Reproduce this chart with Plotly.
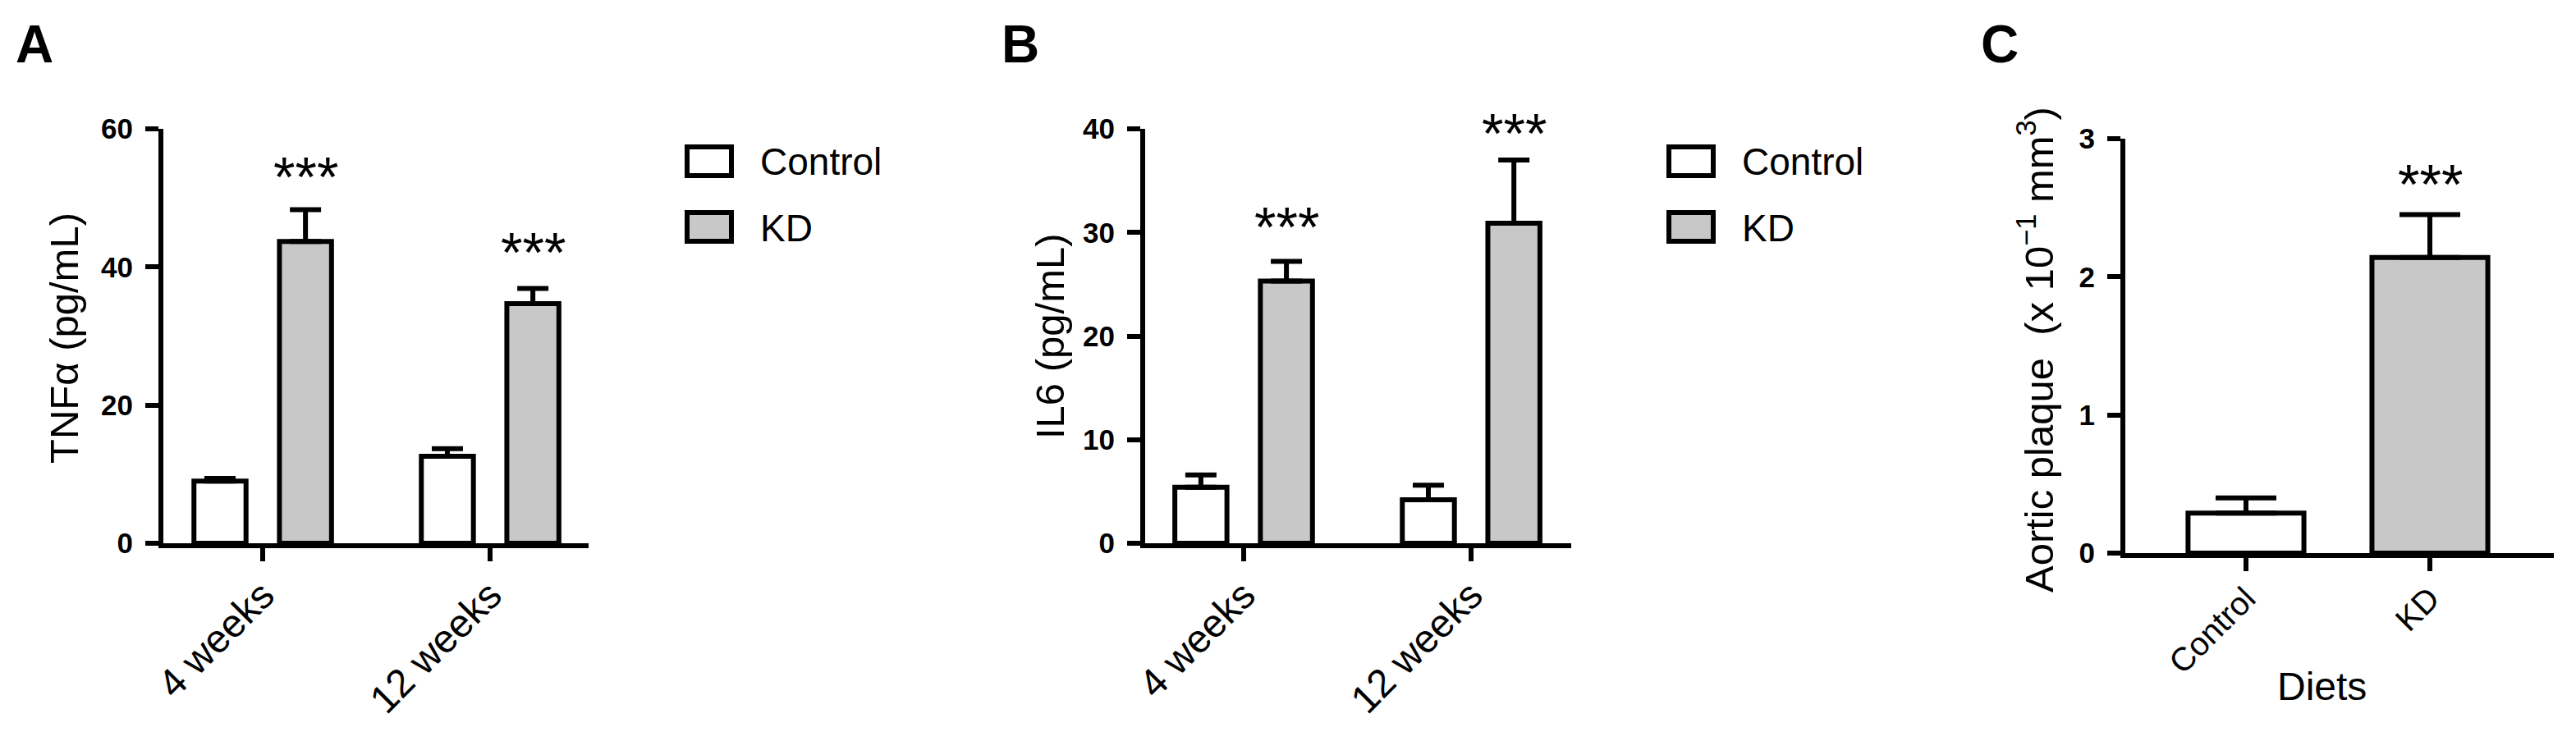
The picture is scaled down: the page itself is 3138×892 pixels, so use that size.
import plotly.graph_objects as go

# ---------------- data ----------------
time_categories = ["4 weeks", "12 weeks"]
series_names = ["Control", "KD"]

tnf_control = [9.0, 12.6]
tnf_control_sem = [0.4, 1.1]
tnf_kd = [43.7, 34.7]
tnf_kd_sem = [4.6, 2.2]
tnf_star_y = [54.7, 43.7]

il6_control = [5.4, 4.2]
il6_control_sem = [1.2, 1.4]
il6_kd = [25.3, 30.9]
il6_kd_sem = [1.9, 6.1]
il6_star_y = [31.6, 40.6]

diet_categories = ["Control", "KD"]
plaque = [0.29, 2.14]
plaque_sem = [0.11, 0.31]
plaque_star_y = [2.75]

panel_letters = ["A", "B", "C"]
y_titles = ["TNF\u03b1 (pg/mL)", "IL6 (pg/mL)",
            "Aortic plaque\u00a0\u00a0(x 10<sup>\u22121</sup> mm<sup>3</sup>)"]

# ---------------- style ----------------
W, H = 3138, 892
FONT = "Liberation Sans, Arial, sans-serif"
GRAY = "#c8c8c8"
BLACK = "#000000"
LW = 6
BARGAP = 0.248
BARGROUPGAP = 0.391


def px_x(v):
    return v / W


def px_y(v):
    return 1 - v / H


fig = go.Figure()


def add_pair(xaxis, yaxis, ctrl, ctrl_sem, kd, kd_sem, cap):
    fig.add_trace(go.Bar(
        x=time_categories, y=ctrl, name=series_names[0],
        marker=dict(color="white", line=dict(color=BLACK, width=LW)),
        error_y=dict(type="data", array=ctrl_sem, arrayminus=[0] * len(ctrl),
                     symmetric=False, color=BLACK, thickness=LW, width=cap),
        xaxis=xaxis, yaxis=yaxis, showlegend=False))
    fig.add_trace(go.Bar(
        x=time_categories, y=kd, name=series_names[1],
        marker=dict(color=GRAY, line=dict(color=BLACK, width=LW)),
        error_y=dict(type="data", array=kd_sem, arrayminus=[0] * len(kd),
                     symmetric=False, color=BLACK, thickness=LW, width=cap),
        xaxis=xaxis, yaxis=yaxis, showlegend=False))


add_pair("x", "y", tnf_control, tnf_control_sem, tnf_kd, tnf_kd_sem, 19)
add_pair("x2", "y2", il6_control, il6_control_sem, il6_kd, il6_kd_sem, 19)

fig.add_trace(go.Bar(
    x=diet_categories, y=plaque, width=0.63,
    marker=dict(color=["white", GRAY], line=dict(color=BLACK, width=LW)),
    error_y=dict(type="data", array=plaque_sem, arrayminus=[0] * len(plaque),
                 symmetric=False, color=BLACK, thickness=LW, width=37),
    xaxis="x3", yaxis="y3", showlegend=False))

# ---------------- axes ----------------
x_domains = [[px_x(199), px_x(717)], [px_x(1395), px_x(1914)], [px_x(2589), px_x(3111)]]
y_domains = [[px_y(662), px_y(157)], [px_y(662), px_y(157)], [px_y(674), px_y(169)]]
x_ranges = [[-0.437, 1.433], [-0.433, 1.440], [-0.656, 1.674]]
y_ranges = [[0, 60], [0, 40], [0, 3]]
y_dticks = [20, 10, 1]
x_tick_sizes = [48, 48, 40]

layout_axes = {}
for i in range(3):
    sx = "" if i == 0 else str(i + 1)
    layout_axes["xaxis" + sx] = dict(
        domain=x_domains[i], range=x_ranges[i], type="category", automargin=False,
        anchor="y" + sx, showline=True, linecolor=BLACK, linewidth=LW,
        ticks="outside", ticklen=16, tickwidth=LW, tickcolor=BLACK,
        tickangle=-45, showgrid=False, zeroline=False, fixedrange=True,
        tickfont=dict(family=FONT, size=x_tick_sizes[i], color=BLACK),
        ticklabelstandoff=-6)
    layout_axes["yaxis" + sx] = dict(
        domain=y_domains[i], range=y_ranges[i], dtick=y_dticks[i], automargin=False,
        anchor="x" + sx, showline=True, linecolor=BLACK, linewidth=LW,
        ticks="outside", ticklen=16, tickwidth=LW, tickcolor=BLACK,
        showgrid=False, zeroline=False, fixedrange=True,
        tickfont=dict(family=FONT, size=35, color=BLACK, weight="bold"),
        ticklabelstandoff=8)

# ---------------- annotations ----------------
annotations = []
kd_offset = (1 - BARGAP) / 4

# panel letters
letter_pos = [(42, 54), (1243, 54), (2436, 54)]
for letter, (lx, ly) in zip(panel_letters, letter_pos):
    annotations.append(dict(text=letter, x=px_x(lx), y=px_y(ly), xref="paper", yref="paper",
                            xanchor="center", yanchor="middle", showarrow=False,
                            font=dict(family=FONT, size=64, color=BLACK, weight="bold")))

# y titles
title_pos = [(78, 412), (1279, 410), (2480, 426)]
for t, (tx, ty) in zip(y_titles, title_pos):
    annotations.append(dict(text=t, x=px_x(tx), y=px_y(ty), xref="paper", yref="paper",
                            xanchor="center", yanchor="middle", textangle=-90, showarrow=False,
                            font=dict(family=FONT, size=49, color=BLACK)))

# x title for panel C
annotations.append(dict(text="Diets", x=px_x(2828), y=px_y(836), xref="paper", yref="paper",
                        xanchor="center", yanchor="middle", showarrow=False,
                        font=dict(family=FONT, size=48, color=BLACK)))

# significance stars (placed in axis-domain units so they are never clipped)
star_font = dict(family=FONT, size=68, color=BLACK)
star_sets = [("x", "y", tnf_star_y, y_ranges[0][1], kd_offset),
             ("x2", "y2", il6_star_y, y_ranges[1][1], kd_offset),
             ("x3", "y3", plaque_star_y, y_ranges[2][1], 0)]
for xr, yr, ys, ymax, off in star_sets:
    for i, sy in enumerate(ys):
        xi = i + off if len(ys) > 1 else 1
        annotations.append(dict(text="***", x=xi, y=sy / ymax, xref=xr, yref=yr + " domain",
                                xanchor="center", yanchor="middle", yshift=-13,
                                showarrow=False, font=star_font))

# legends (drawn manually, large swatches as in the reference)
shapes = []
legend_left = [834, 2030]
legend_rows = [(176, 217, "white", series_names[0]), (256, 297, GRAY, series_names[1])]
for lx in legend_left:
    for (top, bot, fill, name) in legend_rows:
        shapes.append(dict(type="rect", xref="paper", yref="paper",
                           x0=px_x(lx + 3), x1=px_x(lx + 57), y0=px_y(bot - 3), y1=px_y(top + 3),
                           fillcolor=fill, line=dict(color=BLACK, width=LW)))
        annotations.append(dict(text=name, x=px_x(lx + 90), y=px_y((top + bot) / 2 + 1),
                                xref="paper", yref="paper", xanchor="left", yanchor="middle",
                                showarrow=False, font=dict(family=FONT, size=46, color=BLACK)))

fig.update_layout(
    width=W, height=H, margin=dict(l=0, r=0, t=0, b=0, autoexpand=False),
    paper_bgcolor="white", plot_bgcolor="white",
    barmode="group", bargap=BARGAP, bargroupgap=BARGROUPGAP,
    showlegend=False, annotations=annotations, shapes=shapes,
    font=dict(family=FONT, color=BLACK),
    **layout_axes)

fig.write_html("out.html", config={"displayModeBar": False},
               post_script="document.body.style.margin='0';document.body.style.padding='0';")
